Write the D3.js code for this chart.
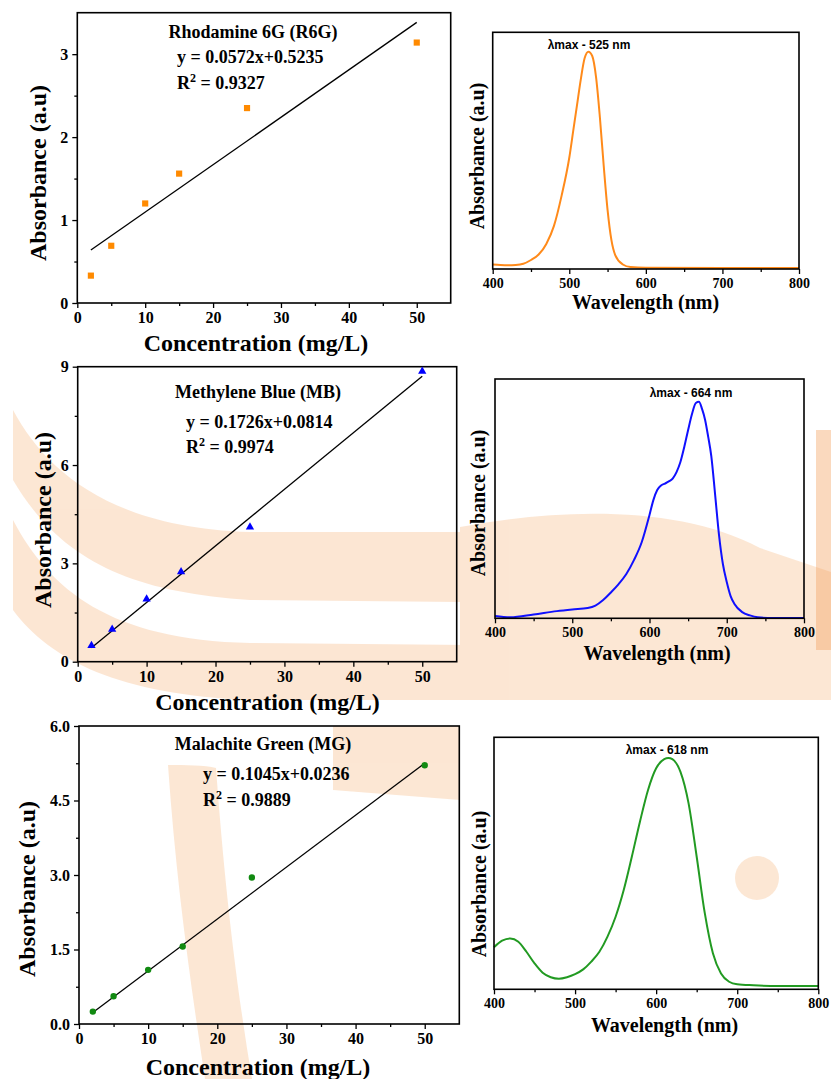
<!DOCTYPE html>
<html>
<head>
<meta charset="utf-8">
<script src="https://cdn.jsdelivr.net/npm/d3@7"></script>
<style>
  html, body { margin: 0; padding: 0; background: #ffffff; }
  svg { display: block; }
</style>
</head>
<body>
<svg id="fig" width="831" height="1079"></svg>
<script>
// ---- Calibration data (concentration in mg/L vs absorbance) ----
const concentrations = [2, 5, 10, 15, 25, 50];
const r6gAbsorbance = [0.33, 0.69, 1.20, 1.56, 2.35, 3.14];
const mbAbsorbance  = [0.49, 0.99, 1.91, 2.74, 4.11, 8.86];
const mgAbsorbance  = [0.25, 0.56, 1.09, 1.56, 2.95, 5.21];

// linear fits: [slope, intercept]
const r6gFit = [0.0572, 0.5235];
const mbFit  = [0.1726, 0.0814];
const mgFit  = [0.1045, 0.0236];
const r6gR2 = "0.9327", mbR2 = "0.9974", mgR2 = "0.9889";

// tick values
const concTicks = [0, 10, 20, 30, 40, 50];
const concMinor = [5, 15, 25, 35, 45];
const r6gTicks = [0, 1, 2, 3], r6gMinor = [0.5, 1.5, 2.5];
const mbTicks  = [0, 3, 6, 9], mbMinor  = [1.5, 4.5, 7.5];
const mgTicks  = [0, 1.5, 3.0, 4.5, 6.0], mgMinor = [0.75, 2.25, 3.75, 5.25];
const wlTicks = [400, 500, 600, 700, 800];
const wlMinor = [450, 550, 650, 750];

// ---- UV-Vis spectra (normalised absorbance) ----
const r6gWavelength = [400, 410, 420, 430, 440, 450, 460, 470, 480, 490, 500, 505, 510, 515, 520, 525, 530, 535, 540, 545, 550, 555, 560, 570, 580, 600, 700, 800];
const r6gSpectrum   = [0.019, 0.017, 0.016, 0.017, 0.022, 0.038, 0.061, 0.106, 0.182, 0.31, 0.47, 0.58, 0.69, 0.80, 0.89, 0.918, 0.90, 0.81, 0.64, 0.435, 0.25, 0.123, 0.059, 0.019, 0.008, 0.005, 0.004, 0.004];

const mbWavelength = [400, 420, 450, 480, 500, 520, 530, 540, 550, 560, 570, 580, 590, 600, 605, 610, 615, 620, 625, 630, 635, 640, 645, 650, 655, 660, 664, 668, 672, 676, 680, 685, 690, 695, 700, 705, 710, 720, 730, 740, 760, 800];
const mbSpectrum   = [0.010, 0.004, 0.016, 0.030, 0.037, 0.043, 0.053, 0.076, 0.108, 0.143, 0.185, 0.244, 0.319, 0.432, 0.494, 0.536, 0.555, 0.563, 0.572, 0.584, 0.611, 0.653, 0.716, 0.787, 0.854, 0.900, 0.905, 0.875, 0.829, 0.758, 0.678, 0.515, 0.348, 0.227, 0.152, 0.093, 0.060, 0.026, 0.012, 0.004, 0.001, 0.001];

const mgWavelength = [400, 410, 420, 430, 440, 450, 460, 470, 480, 490, 500, 510, 520, 530, 540, 550, 560, 570, 580, 590, 600, 610, 615, 620, 630, 640, 650, 660, 670, 680, 690, 700, 720, 750, 800];
const mgSpectrum   = [0.167, 0.193, 0.202, 0.189, 0.149, 0.103, 0.066, 0.048, 0.042, 0.048, 0.060, 0.079, 0.110, 0.149, 0.209, 0.288, 0.394, 0.526, 0.665, 0.791, 0.877, 0.913, 0.918, 0.913, 0.863, 0.738, 0.526, 0.302, 0.143, 0.063, 0.030, 0.020, 0.016, 0.013, 0.013];

const svg = d3.select("#fig");
const SERIF = "'Liberation Serif', 'Times New Roman', serif";
const SANS = "'Liberation Sans', Arial, sans-serif";

// ---- faint background emblem ----
const wm = svg.append("g").attr("fill", "#f9c9a0").attr("opacity", 0.45);
wm.append("path").attr("d", "M13,410 C45,470 110,528 250,532 L460,532 L460,602 L250,600 C130,592 60,560 13,480 Z");
wm.append("path").attr("d", "M13,520 C50,590 110,640 250,643 L470,645 L470,700 L250,700 C120,695 50,660 13,610 Z");
wm.append("path").attr("d", "M460,527 C560,508 680,505 760,548 L831,572 L831,700 L460,700 Z");
wm.append("circle").attr("cx", 757).attr("cy", 878).attr("r", 22);
wm.append("path").attr("d", "M333,726 L460,726 L460,800 L333,790 Z");
wm.append("path").attr("d", "M168,765 C185,765 205,765 216,768 C222,850 232,960 252,1079 L205,1079 C190,980 176,880 168,765 Z");
svg.append("rect").attr("x", 816).attr("y", 430).attr("width", 15).attr("height", 220)
  .attr("fill", "#f3a15c").attr("opacity", 0.4);

function frame(g, p) {
  g.append("rect")
    .attr("x", p.x0).attr("y", p.y0)
    .attr("width", p.x1 - p.x0).attr("height", p.y1 - p.y0)
    .attr("fill", "none").attr("stroke", "#000").attr("stroke-width", 1.6);
}

function styleAxis(sel, size) {
  sel.select(".domain").remove();
  sel.selectAll(".tick line").attr("stroke", "#000").attr("stroke-width", 1.3);
  sel.selectAll(".tick text")
    .attr("fill", "#000")
    .style("font-family", SERIF).style("font-weight", "bold").style("font-size", size + "px");
}

function rotatedLabel(g, txt, cx, cy, size) {
  g.append("text")
    .attr("transform", `translate(${cx},${cy}) rotate(-90)`)
    .attr("text-anchor", "middle").attr("dy", "0.35em")
    .style("font-family", SERIF).style("font-weight", "bold").style("font-size", size + "px")
    .text(txt);
}

function plainLabel(g, txt, cx, cy, size) {
  g.append("text")
    .attr("x", cx).attr("y", cy)
    .attr("text-anchor", "middle").attr("dy", "0.35em")
    .style("font-family", SERIF).style("font-weight", "bold").style("font-size", size + "px")
    .text(txt);
}

function calibration(p) {
  const g = svg.append("g");
  const x = d3.scaleLinear().domain([0, 55]).range([p.x0, p.x1]);
  const y = d3.scaleLinear().domain([0, p.ymax]).range([p.y1, p.y0]);

  g.append("g").attr("transform", `translate(0,${p.y1})`)
    .call(d3.axisBottom(x).tickValues(concTicks).tickFormat(d3.format("d")).tickSize(5).tickPadding(4))
    .call(s => styleAxis(s, 16));
  g.append("g").attr("transform", `translate(0,${p.y1})`)
    .call(d3.axisBottom(x).tickValues(concMinor).tickFormat("").tickSize(3))
    .call(s => styleAxis(s, 16));
  g.append("g").attr("transform", `translate(${p.x0},0)`)
    .call(d3.axisLeft(y).tickValues(p.ticks).tickFormat(p.fmt).tickSize(5).tickPadding(4))
    .call(s => styleAxis(s, 16));
  g.append("g").attr("transform", `translate(${p.x0},0)`)
    .call(d3.axisLeft(y).tickValues(p.minor).tickFormat("").tickSize(3))
    .call(s => styleAxis(s, 16));
  frame(g, p);

  // fitted line over the measured range
  const xr = d3.extent(concentrations);
  g.append("line")
    .attr("x1", x(xr[0])).attr("y1", y(p.fit[0] * xr[0] + p.fit[1]))
    .attr("x2", x(xr[1])).attr("y2", y(p.fit[0] * xr[1] + p.fit[1]))
    .attr("stroke", "#000").attr("stroke-width", 1.3);

  const pts = concentrations.map((c, i) => [c, p.values[i]]);
  g.selectAll("path.mark").data(pts).join("path")
    .attr("class", "mark")
    .attr("transform", d => `translate(${x(d[0])},${y(d[1])})`)
    .attr("d", d3.symbol().type(p.symbol).size(p.symSize))
    .attr("fill", p.color);

  const txt = (s, xx, yy, anchor) => g.append("text")
    .attr("x", xx).attr("y", yy).attr("text-anchor", anchor)
    .style("font-family", SERIF).style("font-weight", "bold").style("font-size", "18px")
    .text(s);
  txt(p.title, p.titleX, p.titleY, "middle");
  txt(`y = ${p.fit[0].toFixed(4)}x+${p.fit[1].toFixed(4)}`, p.eqX, p.eqY, "start");
  const r = g.append("text")
    .attr("x", p.eqX).attr("y", p.eqY + 25.5)
    .style("font-family", SERIF).style("font-weight", "bold").style("font-size", "18px");
  r.append("tspan").text("R");
  r.append("tspan").attr("dy", -7).style("font-size", "12px").text("2");
  r.append("tspan").attr("dy", 7).text(` = ${p.r2}`);

  rotatedLabel(g, "Absorbance (a.u)", p.ylx, p.yly, 24);
  plainLabel(g, "Concentration (mg/L)", p.xlx, p.xly, 24);
}

function spectrum(p) {
  const g = svg.append("g");
  const x = d3.scaleLinear().domain([400, 800]).range([p.x0, p.x1]);
  const y = d3.scaleLinear().domain([0, 1]).range([p.y1, p.y0]);

  g.append("g").attr("transform", `translate(0,${p.y1})`)
    .call(d3.axisBottom(x).tickValues(wlTicks).tickFormat(d3.format("d")).tickSize(5).tickPadding(4))
    .call(s => styleAxis(s, 14));
  g.append("g").attr("transform", `translate(0,${p.y1})`)
    .call(d3.axisBottom(x).tickValues(wlMinor).tickFormat("").tickSize(3))
    .call(s => styleAxis(s, 14));

  const line = d3.line().x(d => x(d[0])).y(d => y(d[1])).curve(d3.curveMonotoneX);
  g.append("path")
    .datum(p.wl.map((w, i) => [w, p.abs[i]]))
    .attr("d", line)
    .attr("fill", "none").attr("stroke", p.color).attr("stroke-width", 2);

  frame(g, p);

  g.append("text")
    .attr("x", p.lamX).attr("y", p.lamY).attr("text-anchor", "middle")
    .style("font-family", SANS).style("font-weight", "bold").style("font-size", "12px")
    .text(p.lam);

  rotatedLabel(g, "Absorbance (a.u)", p.ylx, p.yly, 20);
  plainLabel(g, "Wavelength (nm)", p.xlx, p.xly, 20);
}

calibration({
  x0: 77.3, x1: 450.7, y0: 12.7, y1: 303, ymax: 3.5,
  ticks: r6gTicks, minor: r6gMinor, fmt: d3.format("d"),
  values: r6gAbsorbance, fit: r6gFit, r2: r6gR2,
  symbol: d3.symbolSquare, symSize: 38, color: "#ff8a00",
  title: "Rhodamine 6G (R6G)", titleX: 253, titleY: 38, eqX: 177, eqY: 63,
  ylx: 38, yly: 173, xlx: 256, xly: 343
});

calibration({
  x0: 77.7, x1: 456.7, y0: 366.7, y1: 661.7, ymax: 9,
  ticks: mbTicks, minor: mbMinor, fmt: d3.format("d"),
  values: mbAbsorbance, fit: mbFit, r2: mbR2,
  symbol: d3.symbolTriangle, symSize: 30, color: "#0000ff",
  title: "Methylene Blue (MB)", titleX: 258, titleY: 397.5, eqX: 186, eqY: 427.5,
  ylx: 43, yly: 520, xlx: 267.5, xly: 701.7
});

calibration({
  x0: 79, x1: 459.3, y0: 726, y1: 1024, ymax: 6,
  ticks: mgTicks, minor: mgMinor, fmt: d3.format(".1f"),
  values: mgAbsorbance, fit: mgFit, r2: mgR2,
  symbol: d3.symbolCircle, symSize: 32, color: "#118a11",
  title: "Malachite Green (MG)", titleX: 263, titleY: 750, eqX: 203, eqY: 780,
  ylx: 26.7, yly: 889, xlx: 258, xly: 1066.7
});

spectrum({
  x0: 492.7, x1: 799, y0: 32.3, y1: 269,
  wl: r6gWavelength, abs: r6gSpectrum, color: "#ff8a1a",
  lam: "λmax - 525 nm", lamX: 589, lamY: 48.5,
  ylx: 476.7, yly: 156, xlx: 645.5, xly: 301.7
});

spectrum({
  x0: 495, x1: 804, y0: 379, y1: 618.3,
  wl: mbWavelength, abs: mbSpectrum, color: "#1010ff",
  lam: "λmax - 664 nm", lamX: 691, lamY: 396.5,
  ylx: 478, yly: 503, xlx: 657, xly: 653
});

spectrum({
  x0: 494, x1: 818.3, y0: 737.3, y1: 989.3,
  wl: mgWavelength, abs: mgSpectrum, color: "#229a22",
  lam: "λmax - 618 nm", lamX: 667, lamY: 754,
  ylx: 479, yly: 884, xlx: 664.5, xly: 1025
});
</script>
</body>
</html>
